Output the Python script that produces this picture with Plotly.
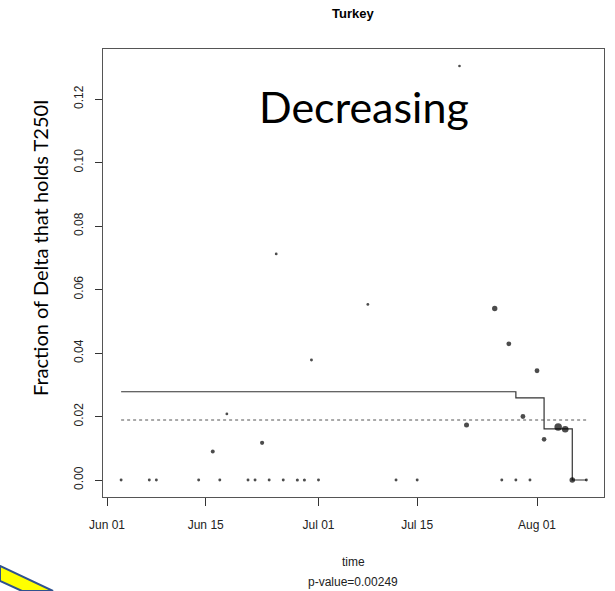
import plotly.graph_objects as go
import pandas as pd
import numpy as np

# ---------------- data ----------------
dates = ["2021-06-03", "2021-06-07", "2021-06-08", "2021-06-14", "2021-06-16",
         "2021-06-17", "2021-06-18", "2021-06-21", "2021-06-22", "2021-06-23",
         "2021-06-24", "2021-06-25", "2021-06-26", "2021-06-28", "2021-06-29",
         "2021-06-30", "2021-07-01", "2021-07-08", "2021-07-12", "2021-07-15",
         "2021-07-21", "2021-07-22", "2021-07-26", "2021-07-27", "2021-07-28",
         "2021-07-29", "2021-07-30", "2021-07-31", "2021-08-01", "2021-08-02",
         "2021-08-04", "2021-08-05", "2021-08-06", "2021-08-08"]
fractions = [0.0, 0.0, 0.0, 0.0, 0.0090,
             0.0, 0.0208, 0.0, 0.0, 0.0117,
             0.0, 0.0712, 0.0, 0.0, 0.0,
             0.0378, 0.0, 0.0553, 0.0, 0.0,
             0.1304, 0.0173, 0.0540, 0.0, 0.0429,
             0.0, 0.0200, 0.0, 0.0344, 0.0128,
             0.0167, 0.0160, 0.0, 0.0]
sample_counts = [12, 12, 12, 12, 40,
                 12, 10, 12, 12, 50,
                 12, 10, 12, 15, 15,
                 12, 12, 10, 12, 12,
                 8, 90, 110, 12, 80,
                 12, 80, 12, 80, 70,
                 280, 200, 120, 12]

step_dates = ["2021-06-03", "2021-07-29", "2021-08-02", "2021-08-06", "2021-08-08"]
step_values = [0.0278, 0.0259, 0.0161, 0.0, 0.0]

mean_dates = ["2021-06-03", "2021-08-08"]
mean_value = 0.0189

x_tick_dates = ["2021-06-01", "2021-06-15", "2021-07-01", "2021-07-15", "2021-08-01"]
x_tick_labels = ["Jun 01", "Jun 15", "Jul 01", "Jul 15", "Aug 01"]
y_tick_values = [0.00, 0.02, 0.04, 0.06, 0.08, 0.10, 0.12]
y_tick_labels = ["0.00", "0.02", "0.04", "0.06", "0.08", "0.10", "0.12"]

title_text = "Turkey"
y_title = "Fraction of Delta that holds T250I"
x_title = "time"
pvalue_text = "p-value=0.00249"
trend_text = "Decreasing"

# ---------------- layout geometry ----------------
W, H = 615, 591
L, R, T, B = 103, 604, 49, 497


def px_x(px):
    return (px - L) / (R - L)


def px_y(py):
    return (B - py) / (B - T)


marker_sizes = [1.7 + 0.35 * np.sqrt(n) for n in sample_counts]

base = pd.Timestamp("2021-06-01")
x_range = [base + pd.Timedelta(days=-0.57), base + pd.Timedelta(days=70.5)]

fig = go.Figure()

fig.add_trace(go.Scatter(
    x=mean_dates, y=[mean_value] * len(mean_dates), mode="lines",
    line=dict(color="#555555", width=1, dash="dot"), hoverinfo="skip",
    showlegend=False))

fig.add_trace(go.Scatter(
    x=step_dates, y=step_values, mode="lines",
    line=dict(color="#333333", width=1.2, shape="hv"), showlegend=False))

fig.add_trace(go.Scatter(
    x=dates, y=fractions, mode="markers",
    marker=dict(color="#000000", size=marker_sizes, line=dict(width=0)),
    showlegend=False))

axis_font = dict(family="Liberation Sans, Arial, sans-serif", size=12, color="#222222")


def ann(text, x, y, font, **kw):
    return dict(text=text, x=px_x(x), y=px_y(y), xref="paper", yref="paper",
                xanchor="center", yanchor="middle", showarrow=False, font=font, **kw)


fig.update_layout(
    width=W, height=H,
    margin=dict(l=L, r=W - R, t=T, b=H - B, pad=0),
    paper_bgcolor="white", plot_bgcolor="white",
    xaxis=dict(
        type="date", range=x_range, tickvals=x_tick_dates, ticktext=x_tick_labels,
        ticks="outside", ticklen=8, tickcolor="#333333", tickwidth=1,
        showgrid=False, zeroline=False, showline=True, mirror=True,
        linecolor="#555555", linewidth=1, tickfont=axis_font,
        ticklabelstandoff=9, automargin=False),
    yaxis=dict(
        range=[-0.00535, 0.13575], tickvals=y_tick_values, ticktext=y_tick_labels,
        ticks="outside", ticklen=7, tickcolor="#333333", tickwidth=1,
        showgrid=False, zeroline=False, showline=True, mirror=True,
        linecolor="#555555", linewidth=1, tickfont=axis_font,
        tickangle=-90, ticklabelstandoff=7, automargin=False),
    annotations=[
        ann("<b>" + title_text + "</b>", 353, 13,
            dict(family="Liberation Sans, Arial, sans-serif", size=13, color="#000000")),
        ann(x_title, 353, 562, axis_font),
        ann(pvalue_text, 353, 582, axis_font),
        ann(trend_text, 364, 106,
            dict(family="Lato, Noto Sans, sans-serif", size=43, color="#000000")),
        ann(y_title, 40, 248,
            dict(family="Lato, Noto Sans, sans-serif", size=20, color="#000000"),
            textangle=-90),
    ],
)

# decorative arrow fragment at bottom-left corner
pts = [(0, 566), (53, 591), (22, 591), (0, 581)]
path = "M " + " L ".join(f"{px_x(a):.4f},{px_y(b):.4f}" for a, b in pts) + " Z"
fig.add_shape(type="path", path=path, xref="paper", yref="paper",
              fillcolor="#FFFF00", line=dict(color="#2F528F", width=2), layer="above")

fig.write_html("out.html", config={"displayModeBar": False},
               post_script="document.body.style.margin='0';")
